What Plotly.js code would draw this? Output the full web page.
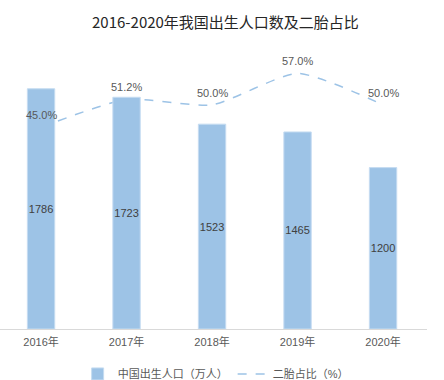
<!DOCTYPE html>
<html>
<head>
<meta charset="utf-8">
<script src="https://cdn.plot.ly/plotly-3.0.1.min.js"></script>
<style>html,body{margin:0;padding:0;background:#fff;}#chart{width:444px;height:380px;}</style>
</head>
<body>
<div id="chart"></div>
<script>
const years = ["2016年", "2017年", "2018年", "2019年", "2020年"];
const births = [1786, 1723, 1523, 1465, 1200];
const secondChildShare = [45.0, 51.2, 50.0, 57.0, 50.0];
const barName = "中国出生人口（万人）";
const lineName = "二胎占比（%）";
const titleText = "2016-2020年我国出生人口数及二胎占比";

const FONT = "Liberation Sans, Arial, Noto Sans CJK SC, sans-serif";

const lineTrace = {
  x: years,
  y: secondChildShare,
  name: lineName,
  type: "scatter",
  mode: "lines",
  yaxis: "y",
  line: {color: "#9DC3E6", width: 1.5, dash: "dash", shape: "spline", smoothing: 0.6},
  hoverinfo: "skip"
};

const barTrace = {
  x: years,
  y: births,
  name: barName,
  type: "bar",
  yaxis: "y2",
  width: 0.32,
  marker: {color: "#9DC3E6", line: {color: "#C5DCF1", width: 1}},
  text: births.map(String),
  textposition: "inside",
  insidetextanchor: "middle",
  textangle: 0,
  constraintext: "none",
  textfont: {family: FONT, size: 11, color: "#404040"},
  hoverinfo: "skip"
};

const lineLabels = years.map((yr, i) => ({
  x: yr,
  y: secondChildShare[i],
  xref: "x",
  yref: "y",
  text: secondChildShare[i].toFixed(1) + "%",
  showarrow: false,
  yanchor: "middle",
  xanchor: "center",
  yshift: 12,
  font: {family: FONT, size: 11, color: "#595959"}
}));

const layout = {
  width: 444,
  height: 380,
  margin: {l: 0, r: 17, t: 60, b: 51},
  paper_bgcolor: "#ffffff",
  plot_bgcolor: "#ffffff",
  showlegend: true,
  title: {
    text: titleText,
    font: {family: "Noto Sans CJK SC, sans-serif", size: 15, color: "#262626"},
    x: 0.528, xanchor: "center", xref: "paper",
    y: 0.94, yanchor: "middle", yref: "container"
  },
  xaxis: {
    type: "category",
    range: [-0.48, 4.514],
    showline: true,
    linecolor: "#D9D9D9",
    linewidth: 1,
    showgrid: false,
    zeroline: false,
    ticks: "",
    ticklabelstandoff: 3,
    tickfont: {family: FONT, size: 11, color: "#595959"}
  },
  yaxis: {
    range: [0, 60],
    visible: false,
    showgrid: false,
    zeroline: false
  },
  yaxis2: {
    range: [0, 2000],
    overlaying: "y",
    side: "left",
    visible: false,
    showgrid: false,
    zeroline: false
  },
  annotations: lineLabels,
  legend: {
    orientation: "h",
    x: 0.505, xanchor: "center",
    y: 0.016, yanchor: "middle", yref: "container",
    font: {family: FONT, size: 11, color: "#595959"},
    traceorder: "reversed",
    itemwidth: 30
  }
};

Plotly.newPlot("chart", [lineTrace, barTrace], layout, {displayModeBar: false, staticPlot: true});
</script>
</body>
</html>
